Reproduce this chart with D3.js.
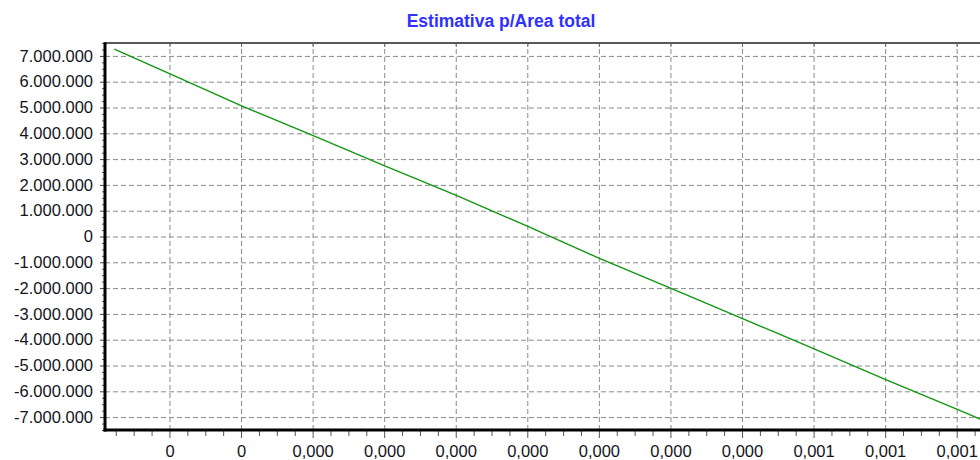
<!DOCTYPE html>
<html>
<head>
<meta charset="utf-8">
<script src="https://cdn.jsdelivr.net/npm/d3@7"></script>
<style>
  body { margin: 0; background: #fff; }
  svg { display: block; font-family: "Liberation Sans", Arial, sans-serif; }
  .grid line { stroke: #8a8a8a; stroke-dasharray: 5,3; }
  .grid .domain { display: none; }
  .axis text { font-size: 16.5px; fill: #14141c; }
</style>
</head>
<body>
<svg width="980" height="460"></svg>
<script>
// tick positions (index units) and the labels shown under them
var xTicks = [0, 1, 2, 3, 4, 5, 6, 7, 8, 9, 10, 11];
var xTickLabels = ["0", "0", "0,000", "0,000", "0,000", "0,000", "0,000", "0,000", "0,000", "0,001", "0,001", "0,001"];

// estimate line
var lineX = [-0.77, 0, 1, 2, 3, 4, 5, 6, 7, 8, 9, 10, 11, 11.6];
var lineY = [7260000, 6310000, 5070000, 3920000, 2750000, 1600000, 400000, -840000, -2000000, -3170000, -4350000, -5540000, -6690000, -7390000];

var yTicks = [7e6, 6e6, 5e6, 4e6, 3e6, 2e6, 1e6, 0, -1e6, -2e6, -3e6, -4e6, -5e6, -6e6, -7e6];

var title = "Estimativa p/Area total";

var svg = d3.select("svg"),
    margin = {top: 43, right: -20, bottom: 30, left: 105},
    width = +svg.attr("width") - margin.left - margin.right,
    height = +svg.attr("height") - margin.top - margin.bottom;

var x = d3.scaleLinear().domain([-0.901, 11.605]).range([0, width]),
    y = d3.scaleLinear().domain([-7.5e6, 7.5e6]).range([height, 0]);

var fmtY = function(d) {
    if (d === 0) return "0";
    return d3.format(",")(d).replace(/,/g, ".").replace("−", "-");
};

var data = lineX.map(function(d, i) { return {x: d, y: lineY[i]}; });

svg.append("defs").append("clipPath")
    .attr("id", "clip")
    .append("rect")
    .attr("width", width)
    .attr("height", height);

var g = svg.append("g")
    .attr("transform", "translate(" + margin.left + "," + margin.top + ")");

// grid
g.append("g")
    .attr("class", "grid")
    .call(d3.axisLeft(y).tickValues(yTicks).tickSize(-width).tickFormat(""));

g.append("g")
    .attr("class", "grid")
    .attr("transform", "translate(0," + height + ")")
    .call(d3.axisBottom(x).tickValues(xTicks).tickSize(height).tickFormat(""))
    .selectAll("line")
    .attr("y2", -height);

// top border, with short solid marks at the grid lines
g.append("line")
    .attr("x1", 0).attr("x2", width)
    .attr("y1", 0).attr("y2", 0)
    .attr("stroke", "#222")
    .attr("stroke-width", 1.6);

g.append("g")
    .call(d3.axisTop(x).tickValues(xTicks).tickSize(-4).tickFormat(""))
    .call(function(a) { a.select(".domain").remove(); a.selectAll("line").attr("stroke", "#666"); });

// minor ticks
var xMinor = d3.range(-3, 47).map(function(i) { return i / 4; })
    .filter(function(d) { return d % 1 !== 0 && d > x.domain()[0]; });
g.append("g")
    .attr("transform", "translate(0," + height + ")")
    .call(d3.axisBottom(x).tickValues(xMinor).tickSize(6).tickFormat(""))
    .call(function(a) { a.select(".domain").remove(); a.selectAll("line").attr("stroke", "#555"); });

var yMinor = d3.range(-30, 31).map(function(i) { return i * 250000; })
    .filter(function(d) { return d % 1e6 !== 0; });
g.append("g")
    .call(d3.axisLeft(y).tickValues(yMinor).tickSize(3).tickFormat(""))
    .call(function(a) { a.select(".domain").remove(); a.selectAll("line").attr("stroke", "#555"); });

// line
var line = d3.line()
    .x(function(d) { return x(d.x); })
    .y(function(d) { return y(d.y); });

g.append("path")
    .datum(data)
    .attr("clip-path", "url(#clip)")
    .attr("fill", "none")
    .attr("stroke", "#129612")
    .attr("stroke-width", 1.4)
    .attr("d", line);

// axes
var yAxisG = g.append("g")
    .attr("class", "axis")
    .call(d3.axisLeft(y).tickValues(yTicks).tickSize(5).tickPadding(7).tickFormat(fmtY));
yAxisG.select(".domain").remove();
yAxisG.selectAll("line").attr("stroke", "#444");

var xAxisG = g.append("g")
    .attr("class", "axis")
    .attr("transform", "translate(0," + height + ")")
    .call(d3.axisBottom(x).tickValues(xTicks).tickSize(8).tickPadding(7)
        .tickFormat(function(d, i) { return xTickLabels[i]; }));
xAxisG.select(".domain").remove();
xAxisG.selectAll("line").attr("stroke", "#555");

g.append("line")
    .attr("x1", 0).attr("x2", 0)
    .attr("y1", -0.8).attr("y2", height + 1.5)
    .attr("stroke", "#000")
    .attr("stroke-width", 3);

g.append("line")
    .attr("x1", -1.5).attr("x2", width)
    .attr("y1", height).attr("y2", height)
    .attr("stroke", "#000")
    .attr("stroke-width", 3);

svg.append("text")
    .attr("x", 501)
    .attr("y", 26.5)
    .attr("text-anchor", "middle")
    .attr("font-weight", "bold")
    .attr("font-size", "17.5px")
    .attr("fill", "#3030ff")
    .text(title);
</script>
</body>
</html>
